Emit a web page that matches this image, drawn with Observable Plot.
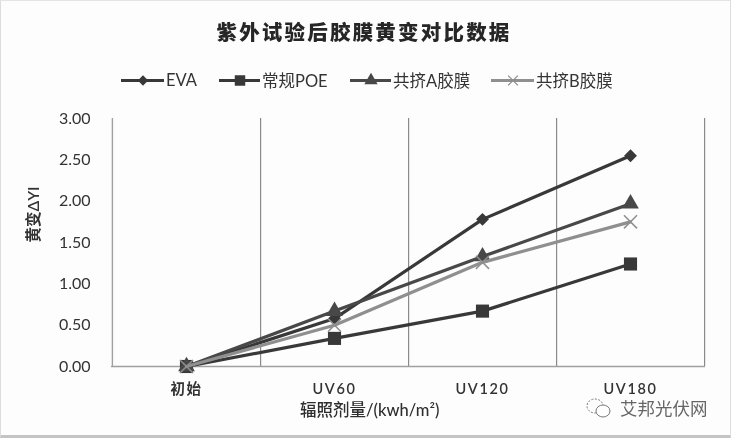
<!DOCTYPE html>
<html><head><meta charset="utf-8">
<script src="https://cdn.jsdelivr.net/npm/d3@7"></script>
<script src="https://cdn.jsdelivr.net/npm/@observablehq/plot@0.6"></script>
<style>
html,body{margin:0;padding:0;background:#fff}
#page{position:relative;width:731px;height:438px;overflow:hidden;background:#fdfdfd;font-family:Lato,"Noto Sans CJK SC",sans-serif;color:#333;box-sizing:border-box;border-left:1px solid #ddd;border-top:1px solid #e4e4e4;border-bottom:3px solid #c4c4c4;border-right:1px solid #ddd;filter:blur(0.45px)}
#head{height:101px;box-sizing:border-box}
#title{position:absolute;left:0;width:726px;top:15px;text-align:center;font:900 20.5px "Noto Sans CJK SC",sans-serif;letter-spacing:2.2px;color:#262626}
#legend{position:absolute;left:120px;top:67px;height:24px;font-size:16.5px;color:#333;white-space:nowrap}
#legend .item{display:flex;align-items:center;position:absolute;top:0;height:24px}
#legend svg{display:block;margin-right:2px;flex:none;max-width:none !important}
#xlabel{position:absolute;left:299px;top:399px;font:500 16.5px/20px Lato,"Noto Sans CJK SC",sans-serif;color:#2e2e2e;white-space:nowrap}
#mark{position:absolute;left:584px;top:395px;display:flex;align-items:center;font:400 17.5px/20px "Noto Sans CJK SC",sans-serif;color:#666}
#mark svg{margin-right:7px;display:block}
#chart svg{display:block;background:transparent}
</style></head><body>
<div id="page">
<div id="head"><div id="title"></div><div id="legend"></div></div>
<div id="chart"></div>
<div id="xlabel"></div>
<div id="mark"></div>
</div>
<script>
const chartTitle = "紫外试验后胶膜黄变对比数据";
const xTitle = "辐照剂量/(kwh/m²)";
const yTitle = "黄变ΔYI";
const categories = ["初始", "UV60", "UV120", "UV180"];
const eva = [0, 0.58, 1.78, 2.55];
const poe = [0, 0.34, 0.67, 1.24];
const filmA = [0, 0.67, 1.33, 1.97];
const filmB = [0, 0.50, 1.26, 1.75];
const seriesNames = ["EVA", "常规POE", "共挤A胶膜", "共挤B胶膜"];
const seriesColors = ["#383838", "#383838", "#484848", "#8f8f8f"];
const seriesSymbols = ["diamond2", "square", "triangle", "times"];
const seriesSizes = [5.8, 7.4, 6.2, 6];
const seriesValues = [eva, poe, filmA, filmB];
const yTicks = [0, 0.5, 1, 1.5, 2, 2.5, 3];
const legendLefts = [0, 98, 229, 370];
const legendWidths = [43, 41, 41, 43];
const uiFont = 'Lato,"Noto Sans CJK SC",sans-serif';

document.getElementById("title").textContent = chartTitle;
document.getElementById("xlabel").textContent = xTitle;

const rows = seriesNames.flatMap((s, i) =>
  categories.map((c, j) => ({series: s, idx: i, cat: c, v: seriesValues[i][j]})));

const marks = [
  Plot.axisX({anchor: "bottom", label: null, tickSize: 0, tickPadding: 17, fontSize: 14.5, fontWeight: 600}),
  Plot.axisY({ticks: yTicks, tickFormat: d3.format(".2f"), tickSize: 0, tickPadding: 21, fontSize: 16, label: null}),
  Plot.ruleX(categories, {x: d => d, dx: 74.1, stroke: "#8a8a8a", strokeWidth: 1.2}),
  Plot.ruleX(categories.slice(0, 1), {x: d => d, dx: -74.1, stroke: "#a0a0a0", strokeWidth: 1.4}),
  Plot.ruleY([0], {stroke: "#a0a0a0", strokeWidth: 1.4}),
  Plot.text([yTitle], {frameAnchor: "left", dx: -77, rotate: -90, text: d => d, fontSize: 15.5, fontWeight: 600, fill: "#333"})
];
seriesNames.forEach((s, i) => {
  const d = rows.filter(r => r.idx === i);
  marks.push(Plot.line(d, {x: "cat", y: "v", stroke: seriesColors[i], strokeWidth: 3.2, curve: "linear"}));
  const sym = seriesSymbols[i];
  marks.push(Plot.dot(d, sym === "times"
    ? {x: "cat", y: "v", symbol: sym, r: seriesSizes[i], stroke: seriesColors[i], strokeWidth: 1.5, fill: "none"}
    : {x: "cat", y: "v", symbol: sym, r: seriesSizes[i], fill: seriesColors[i], stroke: "none"}));
});

const plot = Plot.plot({
  width: 729, height: 333,
  marginLeft: 110, marginRight: 25, marginTop: 16, marginBottom: 69,
  x: {type: "band", domain: categories, padding: 0},
  y: {domain: [0, 3]},
  style: {fontFamily: uiFont, color: "#333", background: "transparent", overflow: "visible"},
  marks
});
document.getElementById("chart").appendChild(plot);
d3.select(plot).selectAll('[aria-label="x-axis tick label"] text').style("letter-spacing", "1.6px");

const legend = document.getElementById("legend");
seriesNames.forEach((s, i) => {
  const sw = Plot.plot({
    width: legendWidths[i], height: 24, margin: 0, axis: null,
    x: {type: "linear", domain: [0, 1]}, y: {domain: [0, 1]},
    style: {background: "transparent"},
    marks: [
      Plot.ruleY([0.5], {stroke: seriesColors[i], strokeWidth: 3.2}),
      Plot.dot([[0.5, 0.5]], seriesSymbols[i] === "times"
        ? {x: d => d[0], y: d => d[1], symbol: "times", r: 4.5, stroke: seriesColors[i], strokeWidth: 1.3}
        : {x: d => d[0], y: d => d[1], symbol: seriesSymbols[i], r: seriesSizes[i] * 0.8, fill: seriesColors[i], stroke: "none"})
    ]
  });
  const it = document.createElement("div");
  it.className = "item";
  it.style.left = legendLefts[i] + "px";
  it.appendChild(sw);
  const t = document.createElement("span");
  t.textContent = s;
  it.appendChild(t);
  legend.appendChild(it);
});

const mark = document.getElementById("mark");
const t = document.createElement("span");
t.textContent = "艾邦光伏网";
const ic = document.createElement("span");
ic.innerHTML = '<svg width="28" height="24" viewBox="0 0 28 24"><ellipse cx="10" cy="10" rx="8" ry="7" fill="none" stroke="#777" stroke-dasharray="2 1.5"/><ellipse cx="18" cy="15" rx="7" ry="6" fill="#fff" stroke="#777"/></svg>';
mark.appendChild(ic);
mark.appendChild(t);
</script>
</body></html>
